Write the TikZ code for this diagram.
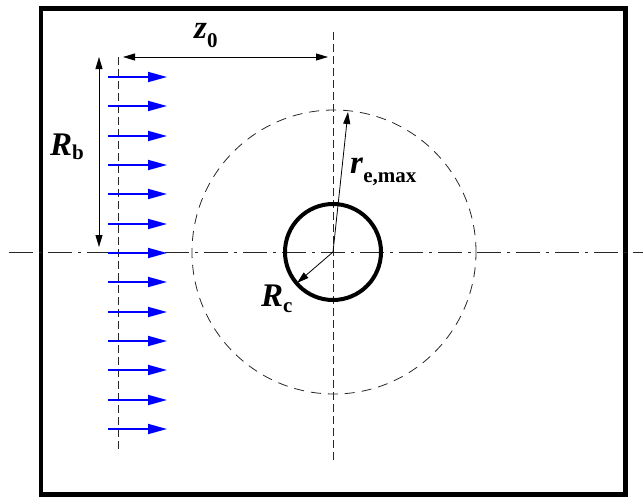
\documentclass[tikz,border=0pt]{standalone}
\usepackage{fontspec}
\setmainfont{Liberation Serif}
\usetikzlibrary{arrows.meta}
\newcommand\symlab[3]{\textbf{\textit{#1}}\raisebox{-#3pt}{\fontsize{21}{21}\selectfont\bfseries #2}}
\begin{document}
\begin{tikzpicture}[x=1pt,y=-1pt,
  axisline/.style={line width=0.8pt, black!85},
  dashline/.style={axisline, dash pattern=on 8pt off 4pt},
  dashdot/.style={axisline, dash pattern=on 24pt off 6pt on 3pt off 6pt},
  flow/.style={blue, line width=1.8pt, -{Triangle[length=19pt,width=10pt]}},
  dimarrow/.style={black, line width=0.8pt, -{Triangle[length=12pt,width=7pt]}},
  dimboth/.style={black, line width=0.8pt, {Triangle[length=12pt,width=7pt]}-{Triangle[length=12pt,width=7pt]}},
  lab/.style={font=\fontsize{33}{35}\selectfont, inner sep=0pt, anchor=base west}]
\useasboundingbox (0,0) rectangle (643,498);
% frame
\draw[line width=4.5pt] (41,8.5) rectangle (625.5,494.5);
% centre
\coordinate (O) at (333,252);
% axes
\coordinate (hl) at (9,252);
\coordinate (hr) at (643,252);
\draw[dashdot] (hl) -- (hr);
\coordinate (vct) at (333,32);
\coordinate (vcb) at (333,463);
\draw[dashline] (vct) -- (vcb);
\coordinate (vlt) at (118,57);
\coordinate (vlb) at (118,453);
\draw[dashline] (vlt) -- (vlb);
% circles
\node[draw, circle, axisline, dash pattern=on 10pt off 7pt, minimum size=284pt, inner sep=0pt] (ecirc) at (334,252) {};
\node[draw, circle, line width=4pt, minimum size=96pt, inner sep=0pt] (ccirc) at (O) {};
% flow arrows
\foreach \k in {0,...,12}{
  \pgfmathsetmacro{\yy}{round(77+29.333*\k)}
  \coordinate (fs\k) at (108,\yy);
  \coordinate (fe\k) at (167,\yy);
  \draw[flow] (fs\k) -- (fe\k);
}
% z0 dimension
\coordinate (za) at (123,57);
\coordinate (zb) at (328,57);
\draw[dimboth] (za) -- (zb);
\node[lab] (zlab) at (194,38) {\symlab{z}{0}{9}};
% Rb dimension
\coordinate (ra) at (99,57);
\coordinate (rb) at (99,247);
\draw[dimboth] (ra) -- (rb);
\node[lab] (rblab) at (50,155) {\symlab{R}{b}{4}};
% re,max
\coordinate (re) at (348,112);
\draw[dimarrow] (O) -- (re);
\node[lab] (relab) at (350,173) {\symlab{r}{e,max}{9}};
% Rc
\coordinate (rc) at (297,283);
\draw[dimarrow] (O) -- (rc);
\node[lab] (rclab) at (261,306) {\symlab{R}{c}{6}};
\end{tikzpicture}
\end{document}
